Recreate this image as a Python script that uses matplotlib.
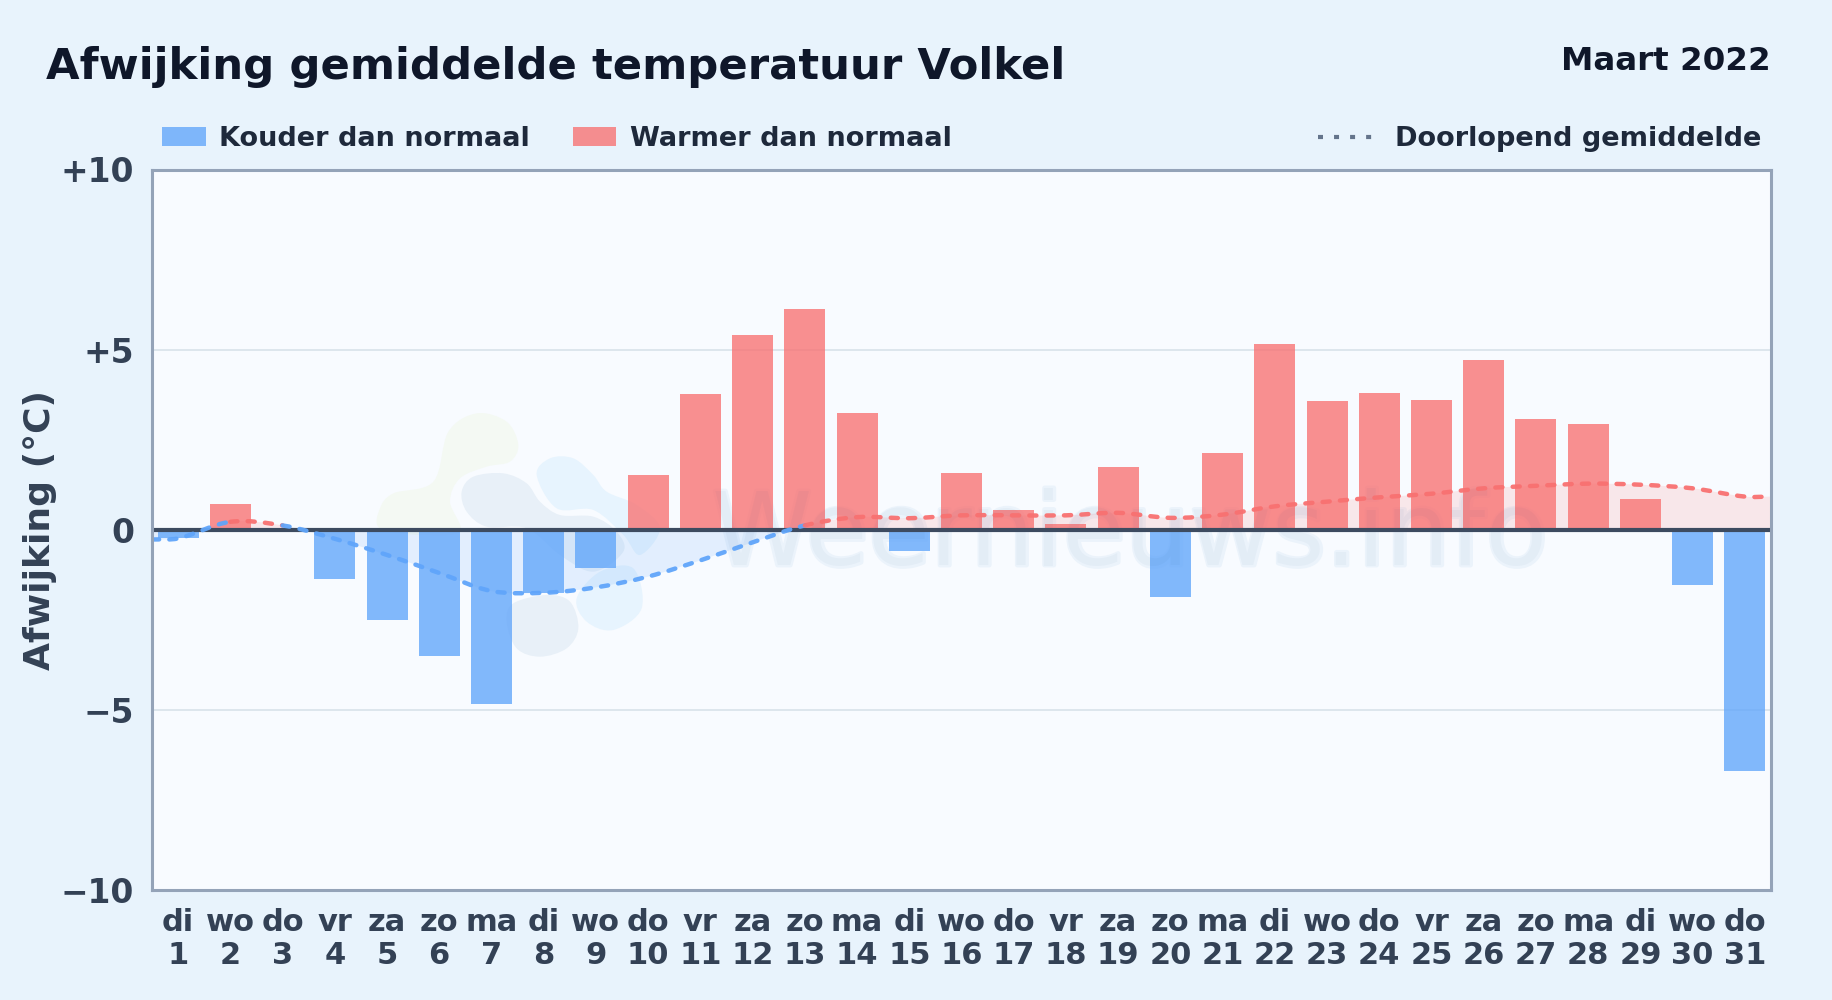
# Afwijking gemiddelde temperatuur Volkel, maart 2022

import matplotlib
matplotlib.use("Agg")
import matplotlib.pyplot as plt
import matplotlib.patheffects as pe
from matplotlib.patches import PathPatch, Rectangle
from matplotlib.path import Path
from matplotlib.lines import Line2D

day_names = ["di", "wo", "do", "vr", "za", "zo", "ma", "di", "wo", "do", "vr", "za", "zo", "ma", "di", "wo",
             "do", "vr", "za", "zo", "ma", "di", "wo", "do", "vr", "za", "zo", "ma", "di", "wo", "do"]
days = list(range(1, 32))
deviation = [-0.24, 0.72, 0.0, -1.38, -2.5, -3.5, -4.85, -1.75, -1.05, 1.53, 3.77, 5.41, 6.13, 3.25, -0.58, 1.58,
             0.55, 0.15, 1.75, -1.88, 2.14, 5.16, 3.58, 3.8, 3.6, 4.72, 3.08, 2.93, 0.86, -1.53, -6.7]
# running mean, with one extra value for each plot edge
mean_x = [0.5] + days + [31.5]
running_mean = [-0.27, -0.24, 0.22, 0.12, -0.25, -0.7, -1.2, -1.7, -1.75, -1.6, -1.3, -0.85, -0.35, 0.12, 0.35, 0.32,
                0.4, 0.4, 0.4, 0.47, 0.33, 0.42, 0.65, 0.78, 0.9, 1.0, 1.15, 1.22, 1.28, 1.25, 1.15, 0.92, 0.92]
y_ticks = [10, 5, 0, -5, -10]
y_labels = ["+10", "+5", "0", "\u22125", "\u221210"]

BLUE = "#60a5fa"
RED = "#f87171"
BG = "#e8f3fc"
W, H = 1832, 1000

plt.rcParams["font.family"] = "DejaVu Sans"
plt.rcParams["font.weight"] = "bold"

fig = plt.figure(figsize=(W / 100, H / 100), dpi=100, facecolor=BG)
ax = fig.add_axes([152 / W, 1 - 890 / H, (1771 - 152) / W, (890 - 169.5) / H], facecolor="#f8fbff")


def fx(x):
    return x / W


def fy(y):
    return 1 - y / H


def blob(points, color):
    # closed smooth shape for the logo, points in pixels of the picture
    n = len(points)
    verts = [points[0]]
    codes = [Path.MOVETO]
    for i in range(n):
        p0, p1, p2, p3 = points[i - 1], points[i], points[(i + 1) % n], points[(i + 2) % n]
        c1 = (p1[0] + (p2[0] - p0[0]) / 6, p1[1] + (p2[1] - p0[1]) / 6)
        c2 = (p2[0] - (p3[0] - p1[0]) / 6, p2[1] - (p3[1] - p1[1]) / 6)
        verts += [c1, c2, p2]
        codes += [Path.CURVE4] * 3
    verts = [(fx(x), fy(y)) for x, y in verts]
    ax.add_patch(PathPatch(Path(verts, codes), fc=color, ec="none", transform=fig.transFigure, zorder=1))


def zoomed(points):
    return [(360 + x / 3, 395 + y / 3) for x, y in points]


# watermark logo
blob(zoomed([(265, 110), (350, 55), (440, 80), (475, 150), (450, 200), (380, 215), (300, 250), (270, 320), (300, 410),
             (180, 420), (60, 400), (60, 340), (100, 295), (220, 260)]), "#f4f9f3")
blob(zoomed([(530, 240), (570, 190), (640, 190), (700, 240), (740, 290), (830, 330), (900, 400), (840, 480), (790, 420),
             (700, 345), (590, 340)]), "#e7f4fe")
blob(zoomed([(650, 610), (720, 530), (820, 520), (845, 640), (760, 705), (680, 680)]), "#e7f4fe")
blob(zoomed([(305, 290), (340, 245), (430, 235), (500, 265), (540, 320), (600, 360), (700, 365), (770, 410), (790, 470),
             (700, 530), (600, 480), (500, 400), (380, 395), (320, 350)]), "#e8f0f8")
blob(zoomed([(460, 625), (560, 600), (630, 620), (655, 700), (620, 760), (540, 785), (470, 760), (440, 680)]), "#e8f0f8")

# watermark text, opaque under the bars and very faint over them
ax.text(fx(1130), fy(565), "Weernieuws.info", transform=fig.transFigure, ha="center", va="baseline", fontsize=73,
        color="#ebf3fb", fontweight="normal", zorder=1.5,
        path_effects=[pe.Stroke(linewidth=3.5, foreground="#ebf3fb"), pe.Normal()])
ax.text(fx(1130), fy(565), "Weernieuws.info", transform=fig.transFigure, ha="center", va="baseline", fontsize=73,
        color="#1e4f80", alpha=0.035, fontweight="normal", zorder=4)

# bars
bar_colors = [RED if v >= 0 else BLUE for v in deviation]
ax.bar(days, deviation, width=0.785, color=bar_colors, alpha=0.78, zorder=3, linewidth=0)

# running mean, one smooth piece for each day, blue as soon as one end is below zero
n = len(mean_x)
pieces = []
for i in range(n - 1):
    a, b = max(i - 1, 0), min(i + 2, n - 1)
    x1, x2 = mean_x[i], mean_x[i + 1]
    y1, y2 = running_mean[i], running_mean[i + 1]
    dx = (x2 - x1) / 3
    c1 = (x1 + dx, y1 + (y2 - running_mean[a]) / (mean_x[i + 1] - mean_x[a]) * dx)
    c2 = (x2 - dx, y2 - (running_mean[b] - y1) / (mean_x[b] - x1) * dx)
    color = BLUE if min(y1, y2) < 0 else RED
    pieces.append((color, (x1, y1), c1, c2, (x2, y2)))

i = 0
while i < len(pieces):
    color = pieces[i][0]
    verts = [pieces[i][1]]
    codes = [Path.MOVETO]
    while i < len(pieces) and pieces[i][0] == color:
        verts += list(pieces[i][2:])
        codes += [Path.CURVE4] * 3
        i += 1
    ax.add_patch(PathPatch(Path(verts, codes), fill=False, ec=color, lw=3.2, ls=(0, (1.6, 2.3)),
                           capstyle="round", zorder=6, alpha=0.95))
    area = verts + [(verts[-1][0], 0), (verts[0][0], 0), verts[0]]
    area_codes = codes + [Path.LINETO, Path.LINETO, Path.CLOSEPOLY]
    ax.add_patch(PathPatch(Path(area, area_codes), fc=color, ec="none", alpha=0.14, zorder=2))

# zero line and grid
ax.axhline(0, color="#3d4b60", lw=3.0, zorder=5)
for t in y_ticks:
    if abs(t) == 5:
        ax.axhline(t, color="#d8e2ea", lw=1.2, zorder=0)

ax.set_xlim(0.5, 31.5)
ax.set_ylim(-10, 10)
ax.set_yticks(y_ticks)
ax.set_yticklabels(y_labels, fontsize=23.7, color="#334155")
ax.set_xticks(days)
ax.set_xticklabels([f"{d}\n{n}" for d, n in zip(day_names, days)], fontsize=22, color="#334155", linespacing=1.18)
ax.tick_params(axis="both", length=0)
ax.tick_params(axis="y", pad=13)
ax.tick_params(axis="x", pad=13)
for s in ax.spines.values():
    s.set_color("#94a3b8")
    s.set_linewidth(2.2)
    s.set_zorder(7)

fig.text(fx(40), fy(530), "Afwijking (\u00b0C)", rotation=90, ha="center", va="center", fontsize=26, color="#334155")

# title
fig.text(fx(46), fy(79), "Afwijking gemiddelde temperatuur Volkel", ha="left", va="baseline", fontsize=31.2, color="#0f172a")
fig.text(fx(1771), fy(70), "Maart 2022", ha="right", va="baseline", fontsize=23.4, color="#0f172a")

# legend
fig.add_artist(Rectangle((fx(162), fy(146)), 44 / W, 19 / H, transform=fig.transFigure, fc=BLUE, alpha=0.78, ec="none"))
fig.text(fx(219), fy(146), "Kouder dan normaal", ha="left", va="baseline", fontsize=19.5, color="#1e293b")
fig.add_artist(Rectangle((fx(573), fy(146)), 43 / W, 19 / H, transform=fig.transFigure, fc=RED, alpha=0.78, ec="none"))
fig.text(fx(630), fy(146), "Warmer dan normaal", ha="left", va="baseline", fontsize=19.5, color="#1e293b")
fig.add_artist(Line2D([fx(1318), fx(1374)], [fy(137), fy(137)], transform=fig.transFigure, color="#64748b", lw=3,
                      ls=(0, (1.2, 2.65)), dash_capstyle="butt"))
fig.text(fx(1395), fy(146), "Doorlopend gemiddelde", ha="left", va="baseline", fontsize=19.5, color="#1e293b")

fig.savefig("out.png", dpi=100, facecolor=BG)
